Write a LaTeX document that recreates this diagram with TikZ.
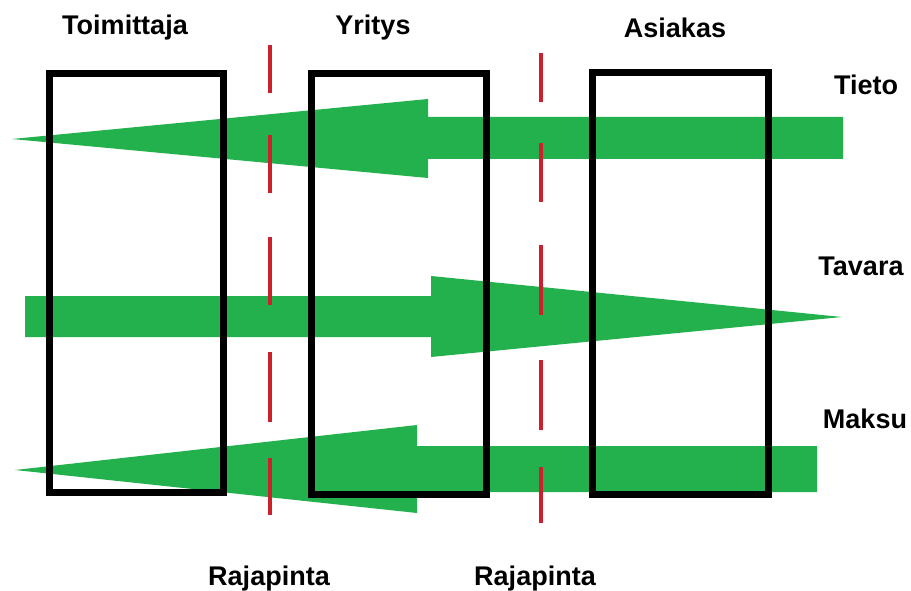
\documentclass[tikz,border=0pt]{standalone}
\usepackage{fontspec}
\setmainfont{Liberation Sans}
\definecolor{flowgreen}{RGB}{34,177,76}
\definecolor{interfacered}{RGB}{204,32,44}
\begin{document}
\begin{tikzpicture}[x=1pt,y=-1pt,
  flow/.style={fill=flowgreen,draw=none},
  partybox/.style={draw=black,line width=7pt},
  boundary/.style={draw=interfacered,line width=4pt,line cap=butt},
  caption/.style={font=\fontsize{27}{32}\selectfont\bfseries,anchor=base,inner sep=0pt}]
\useasboundingbox[fill=white] (0,0) rectangle (911,591);

% flows: information, goods, payment
\fill[flow] (843,117) -- (428,117) -- (428,99) -- (12,139) -- (428,178) -- (428,159) -- (843,159) -- cycle;
\fill[flow] (25,296) -- (431,296) -- (431,276) -- (842,317) -- (431,357) -- (431,337) -- (25,337) -- cycle;
\fill[flow] (817,446) -- (417,446) -- (417,425) -- (15,470) -- (417,513) -- (417,492) -- (817,492) -- cycle;

% parties
\draw[partybox] (49,74) rectangle (223,492);
\draw[partybox] (311,74) rectangle (486,494);
\draw[partybox] (592,73) rectangle (768,494);

% interfaces between parties
\foreach \a/\b in {45/93,135/193,237/305,352/422,458/515}
  \draw[boundary] (270,\a) -- (270,\b);
\foreach \a/\b in {53/102,143/202,245/315,360/430,467/523}
  \draw[boundary] (541,\a) -- (541,\b);

% captions
\node[caption] (toimittaja) at (125,35) {Toimittaja};
\node[caption] (yritys) at (373,35) {Yritys};
\node[caption] (asiakas) at (675,38) {Asiakas};
\node[caption] (tieto) at (866,95) {Tieto};
\node[caption] (tavara) at (861,275) {Tavara};
\node[caption] (maksu) at (865,428) {Maksu};
\node[caption] (raja1) at (269,585) {Rajapinta};
\node[caption] (raja2) at (535,585) {Rajapinta};
\end{tikzpicture}
\end{document}
